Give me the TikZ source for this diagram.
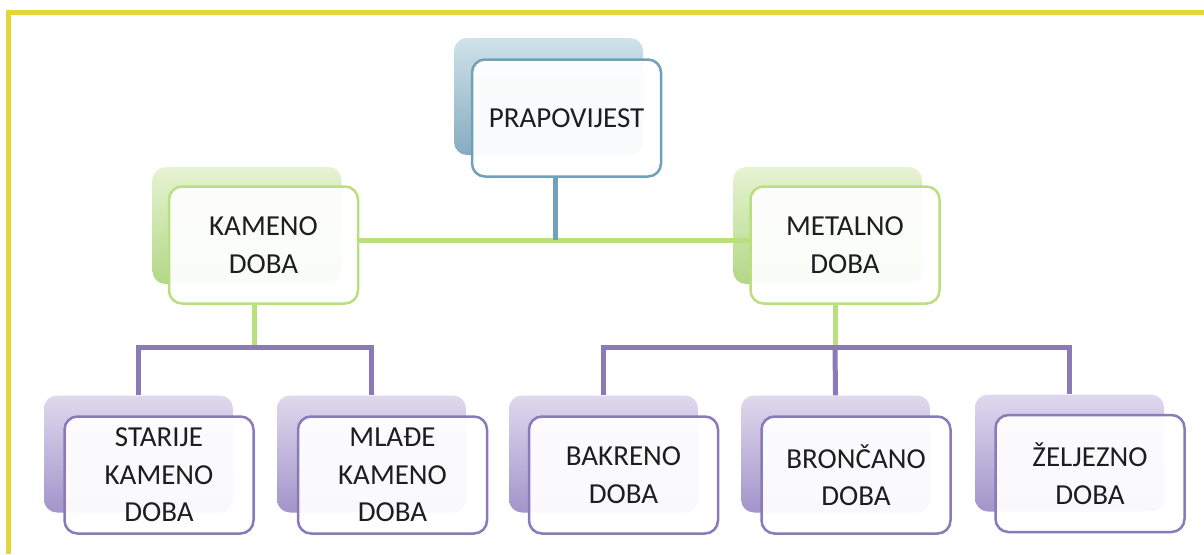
\documentclass[tikz,border=0pt]{standalone}
\usepackage{fontspec}
\setmainfont{Carlito}
\definecolor{ylw}{HTML}{E5D43A}
\definecolor{bluestroke}{HTML}{6FA2B8}
\definecolor{bluelight}{HTML}{CFE2EA}
\definecolor{bluedark}{HTML}{86ABBF}
\definecolor{grnstroke}{HTML}{BADF7E}
\definecolor{grnlight}{HTML}{E6F3D2}
\definecolor{grndark}{HTML}{B2D786}
\definecolor{purstroke}{HTML}{8A7AB9}
\definecolor{purlight}{HTML}{DED9EE}
\definecolor{purdark}{HTML}{A394CA}
\definecolor{txt}{HTML}{1E1E1E}
\pgfdeclarelayer{bklay}
\pgfdeclarelayer{lnlay}
\pgfsetlayers{bklay,lnlay,main}
\begin{document}
\begin{tikzpicture}[x=1pt,y=-1pt,
  frontbox/.style={draw, line width=2.5pt, rounded corners=13pt, fill=white,
    fill opacity=0.94, text opacity=1, minimum width=189pt, minimum height=117pt,
    inner sep=0pt, align=center, font=\fontsize{29}{37.5}\selectfont, text=txt},
  backbox/.style={rounded corners=13pt, minimum width=189pt, minimum height=117pt,
    inner sep=0pt, shading angle=35},
  bluebk/.style={backbox, top color=bluelight, bottom color=bluedark},
  grnbk/.style={backbox, top color=grnlight, bottom color=grndark},
  purbk/.style={backbox, top color=purlight, bottom color=purdark},
  blueline/.style={draw=bluestroke, line width=5pt},
  grnline/.style={draw=grnstroke, line width=5pt},
  purline/.style={draw=purstroke, line width=5pt},
]
\useasboundingbox (0,0) rectangle (1204,554);
% yellow frame
\draw[ylw, line width=5.5pt] (8.7,554) -- (8.7,12.7) -- (1204,12.7);

% front boxes
\node[frontbox, draw=bluestroke] (p) at (566.5,118) {PRAPOVIJEST};
\node[frontbox, draw=grnstroke] (k) at (263.5,245) {KAMENO\\DOBA};
\node[frontbox, draw=grnstroke] (m) at (845,245) {METALNO\\DOBA};
\node[frontbox, draw=purstroke] (s1) at (159,475) {STARIJE\\KAMENO\\DOBA};
\node[frontbox, draw=purstroke] (s2) at (392.5,475) {MLAĐE\\KAMENO\\DOBA};
\node[frontbox, draw=purstroke] (s3) at (623.5,475) {BAKRENO\\DOBA};
\node[frontbox, draw=purstroke] (s4) at (856,475) {BRONČANO\\DOBA};
\node[frontbox, draw=purstroke] (s5) at (1090,473.5) {ŽELJEZNO\\DOBA};

% back boxes
\begin{pgfonlayer}{bklay}
\node[bluebk] (pb) at (548.5,96.5) {};
\node[grnbk] (kb) at (247,225.5) {};
\node[grnbk] (mb) at (827.5,225.5) {};
\node[purbk] (s1b) at (138.5,454) {};
\node[purbk] (s2b) at (371.5,454) {};
\node[purbk] (s3b) at (603.5,454) {};
\node[purbk] (s4b) at (835.5,454) {};
\node[purbk] (s5b) at (1069.5,453) {};
\end{pgfonlayer}

% connectors
\coordinate (htop) at (555,240);
\coordinate (hk) at (254,347);
\coordinate (hm) at (835,347);
\begin{pgfonlayer}{lnlay}
\draw[grnline] ([yshift=5pt]k.east) -- ([yshift=5pt]m.west);
\draw[blueline] ([xshift=-11.5pt]p.south) -- (htop);
\draw[grnline] ([xshift=-9.5pt]k.south) -- (hk);
\draw[grnline] ([xshift=-10pt]m.south) -- (hm);
\draw[purline] (s1b.north) |- (hk) -| (s2b.north);
\draw[purline] (s3b.north) |- (hm) -| (s5b.north);
\draw[purline] (hm) -- (s4b.north);
\end{pgfonlayer}
\end{tikzpicture}
\end{document}
